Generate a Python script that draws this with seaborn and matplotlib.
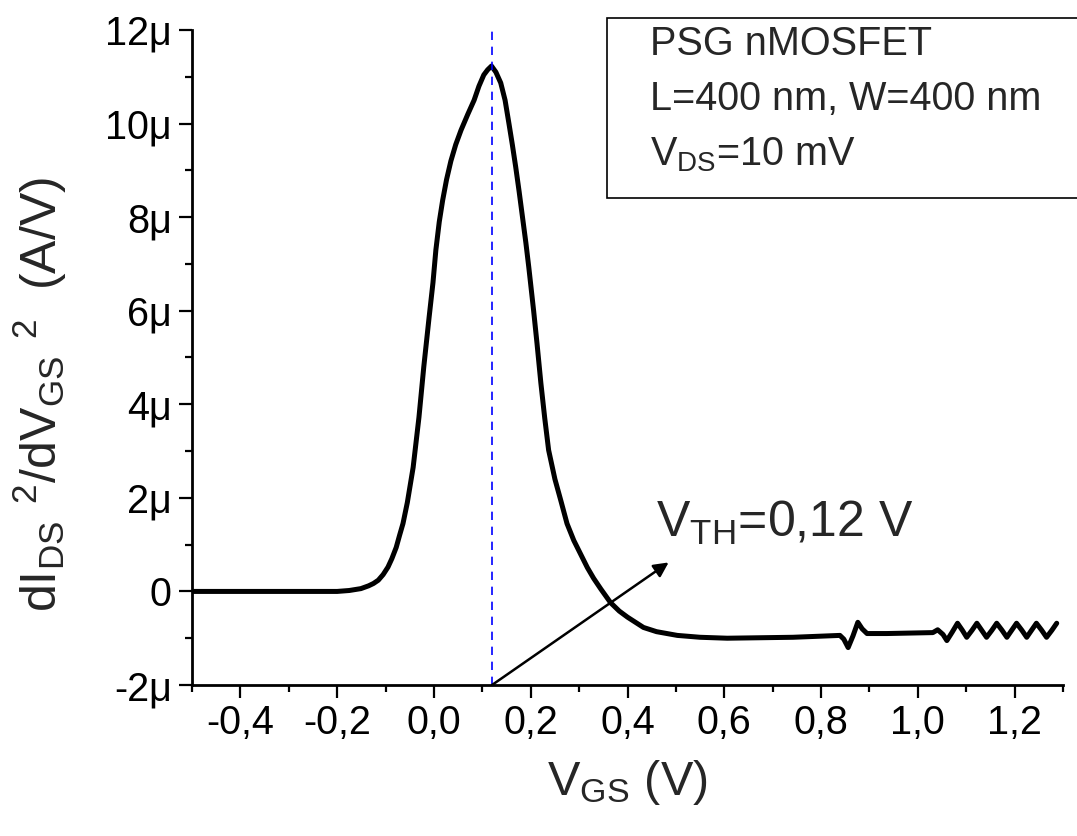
import numpy as np
import pandas as pd
import matplotlib
matplotlib.use("Agg")
import matplotlib.pyplot as plt
from matplotlib.patches import Rectangle
from matplotlib.ticker import FixedLocator, FixedFormatter
import seaborn as sns

# ---- data ----
vgs = [-0.5, -0.4, -0.3, -0.2, -0.175, -0.151, -0.135, -0.125, -0.115, -0.105,
       -0.095, -0.087, -0.078, -0.071, -0.064, -0.055, -0.043, -0.031, -0.021, -0.010,
       -0.002, 0.004, 0.011, 0.018, 0.026, 0.035, 0.045, 0.056, 0.070, 0.083,
       0.093, 0.103, 0.111, 0.119, 0.128, 0.138, 0.147, 0.155, 0.162, 0.169,
       0.176, 0.183, 0.190, 0.196, 0.206, 0.213, 0.221, 0.229, 0.237, 0.250,
       0.262, 0.275, 0.289, 0.303, 0.317, 0.330, 0.345, 0.365, 0.383, 0.400,
       0.415, 0.433, 0.460, 0.503, 0.550, 0.606, 0.742, 0.839, 0.847, 0.856,
       0.866, 0.876, 0.885, 0.895, 0.936, 1.031, 1.041, 1.052, 1.060, 1.071,
       1.082, 1.092, 1.101, 1.112, 1.122, 1.132, 1.142, 1.153, 1.163, 1.174,
       1.184, 1.194, 1.204, 1.215, 1.225, 1.235, 1.245, 1.256, 1.266, 1.277,
       1.287]
d2 = [0.0, 0.0, 0.0, 0.0, 0.02, 0.06, 0.12, 0.17, 0.24, 0.36,
      0.52, 0.70, 0.94, 1.20, 1.45, 1.90, 2.65, 3.72, 4.80, 5.86,
      6.60, 7.30, 7.90, 8.36, 8.80, 9.20, 9.55, 9.86, 10.20, 10.50,
      10.80, 11.04, 11.15, 11.23, 11.10, 10.87, 10.50, 10.00, 9.55, 9.07,
      8.55, 8.00, 7.45, 6.93, 6.00, 5.30, 4.45, 3.70, 3.02, 2.40,
      1.95, 1.45, 1.09, 0.80, 0.51, 0.28, 0.05, -0.24, -0.42, -0.55,
      -0.65, -0.77, -0.86, -0.94, -0.98, -1.00, -0.98, -0.94, -1.02, -1.20,
      -0.95, -0.66, -0.80, -0.90, -0.90, -0.88, -0.82, -0.92, -1.05, -0.87,
      -0.68, -0.83, -0.98, -0.83, -0.68, -0.83, -0.98, -0.83, -0.68, -0.83,
      -0.98, -0.83, -0.68, -0.83, -0.98, -0.83, -0.68, -0.83, -0.98, -0.83,
      -0.68]  # in µA/V^2

vth = 0.12
arrow_tip = (0.485, 0.62)

xticks = [-0.4, -0.2, 0.0, 0.2, 0.4, 0.6, 0.8, 1.0, 1.2]
xticklabels = ["-0,4", "-0,2", "0,0", "0,2", "0,4", "0,6", "0,8", "1,0", "1,2"]
xminor = [-0.5, -0.3, -0.1, 0.1, 0.3, 0.5, 0.7, 0.9, 1.1, 1.3]
yticks = [-2, 0, 2, 4, 6, 8, 10, 12]
yticklabels = ["-2\u03bc", "0", "2\u03bc", "4\u03bc", "6\u03bc", "8\u03bc", "10\u03bc", "12\u03bc"]
yminor = [-1, 1, 3, 5, 7, 9, 11]

info_lines = ["PSG nMOSFET", "L=400 nm, W=400 nm", r"V$_{\mathrm{DS}}$=10 mV"]

df = pd.DataFrame({"VGS": vgs, "d2": d2})

# ---- style ----
sns.set_theme(style="ticks")
plt.rcParams["font.family"] = ["Liberation Sans", "DejaVu Sans"]
plt.rcParams["mathtext.fontset"] = "custom"
plt.rcParams["mathtext.rm"] = "Liberation Sans"
plt.rcParams["mathtext.it"] = "Liberation Sans:italic"
plt.rcParams["mathtext.bf"] = "Liberation Sans:bold"

W, H = 1077, 836
fig = plt.figure(figsize=(W / 100, H / 100), dpi=100)
fig.patch.set_facecolor("white")
ax = fig.add_axes([192 / W, 1 - 685 / H, (1063 - 192) / W, (685 - 30) / H])
ax.set_facecolor("white")

sns.lineplot(data=df, x="VGS", y="d2", ax=ax, color="black", lw=3.6,
             estimator=None, sort=False, solid_joinstyle="round",
             solid_capstyle="round")

ax.plot([vth, vth], [-2, 12], color="#0000ff", lw=1.2, dashes=(5, 4))

ax.annotate("", xy=arrow_tip, xytext=(vth, -2),
            arrowprops=dict(arrowstyle="-|>", color="black", lw=1.8,
                            mutation_scale=22, shrinkA=0, shrinkB=0))
ax.text(0.458, 1.16, r"V$_{\mathrm{TH}}$=0,12 V", fontsize=36,
        ha="left", va="baseline")

ax.set_xlim(-0.5, 1.3)
ax.set_ylim(-2, 12)
ax.xaxis.set_major_locator(FixedLocator(xticks))
ax.xaxis.set_major_formatter(FixedFormatter(xticklabels))
ax.xaxis.set_minor_locator(FixedLocator(xminor))
ax.yaxis.set_major_locator(FixedLocator(yticks))
ax.yaxis.set_major_formatter(FixedFormatter(yticklabels))
ax.yaxis.set_minor_locator(FixedLocator(yminor))

for s in ["top", "right"]:
    ax.spines[s].set_visible(False)
for s in ["left", "bottom"]:
    ax.spines[s].set_linewidth(2.0)
    ax.spines[s].set_color("black")

ax.tick_params(which="major", direction="out", length=9.5, width=1.6,
               labelsize=28.5, colors="black")
ax.tick_params(axis="x", which="major", pad=4)
ax.tick_params(axis="y", which="major", pad=5)
ax.tick_params(which="minor", direction="out", length=5, width=1.6,
               colors="black")

ax.set_xlabel(r"$\mathrm{V_{GS}\ (V)}$", fontsize=35, labelpad=12)
ax.set_ylabel(r"$\mathrm{dI_{DS}{}^{\;\;2}/dV_{GS}{}^{\;\;2}\ \ (A/V)}$", fontsize=36)
ax.yaxis.set_label_coords(-0.1745, 0.443)
ax.yaxis.label.set_verticalalignment("center")

# info box (extends past the right figure edge)
box = Rectangle((607 / W, 1 - 198 / H), 1.0, (198 - 18) / H,
                transform=fig.transFigure, facecolor="white",
                edgecolor="black", lw=1.2, clip_on=False, zorder=5)
fig.patches.append(box)
for i, line in enumerate(info_lines):
    fig.text(650 / W, 1 - (55 + 55 * i) / H, line, fontsize=28.5,
             ha="left", va="baseline", zorder=6)

fig.savefig("out.png", dpi=100, facecolor="white")
